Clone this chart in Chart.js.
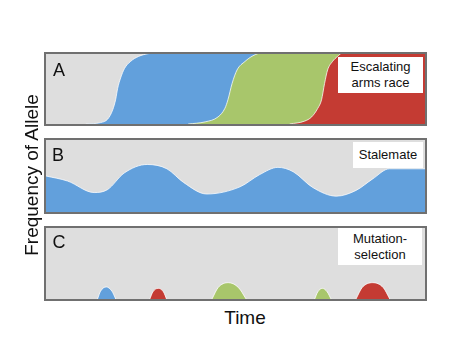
<!DOCTYPE html>
<html>
<head>
<meta charset="utf-8">
<script src="https://cdn.jsdelivr.net/npm/chart.js@4.4.1/dist/chart.umd.min.js"></script>
<style>
  html, body { margin: 0; padding: 0; background: #fff; }
  body { width: 456px; height: 356px; position: relative; overflow: hidden;
         font-family: "Liberation Sans", Arial, Helvetica, sans-serif; color: #111; }
  .panel { position: absolute; left: 44px; width: 383px; box-sizing: border-box;
           border: 2px solid #707070; background: #dedede; }
  .panel canvas { display: block; }
  .txt { position: absolute; white-space: nowrap; }
  .letter { font-size: 18px; line-height: 18px; transform: translate(-50%, -50%); }
  .box { position: absolute; background: #fff; font-size: 13px; line-height: 16px;
         text-align: center; display: flex; flex-direction: column; justify-content: center; }
</style>
</head>
<body>
<div class="panel" id="pA" style="top:52px;height:74px;"><canvas id="cA"></canvas></div>
<div class="panel" id="pB" style="top:138px;height:76px;"><canvas id="cB"></canvas></div>
<div class="panel" id="pC" style="top:226px;height:75px;"><canvas id="cC"></canvas></div>

<div class="txt letter" style="left:59px;top:70px;">A</div>
<div class="txt letter" style="left:58px;top:155px;">B</div>
<div class="txt letter" style="left:59px;top:242px;">C</div>

<div class="box" style="left:338px;top:57px;width:85px;height:36px;">Escalating<br>arms race</div>
<div class="box" style="left:353px;top:142px;width:70px;height:26px;">Stalemate</div>
<div class="box" style="left:338px;top:228px;width:84px;height:37px;">Mutation-<br>selection</div>

<div class="txt" style="left:245px;top:318px;font-size:19px;transform:translate(-50%,-50%);">Time</div>
<div class="txt" style="left:32px;top:175px;font-size:19px;transform:translate(-50%,-50%) rotate(-90deg);">Frequency of Allele</div>

<script>
// ---- Data (x = time in % of panel width, y = allele frequency 0..1) ----
// Panel A: escalating arms race
const blueAX  = [10.5, 14.4, 16.3, 17.6, 18.4, 18.9, 19.7, 20.7, 22.3, 24.4, 27.0, 28.9, 100];
const blueAY  = [0, 0.02, 0.07, 0.20, 0.35, 0.50, 0.65, 0.78, 0.88, 0.95, 0.99, 1, 1];
const greenAX = [37.5, 42.0, 45.4, 47.2, 48.0, 49.1, 50.4, 52.5, 54.6, 57.0, 100];
const greenAY = [0, 0.03, 0.10, 0.22, 0.34, 0.57, 0.76, 0.88, 0.96, 1, 1];
const redAX   = [64.3, 68.2, 70.1, 71.7, 72.7, 73.5, 74.3, 75.6, 76.9, 78.2, 100];
const redAY   = [0, 0.04, 0.10, 0.22, 0.34, 0.57, 0.76, 0.88, 0.95, 1, 1];

// Panel B: stalemate
const blueBX = [0, 5.7, 12.7, 16.2, 20.6, 26.7, 31.9, 36.3, 42.4, 51.2, 56.4, 61.2, 65.2, 70.4, 76.6, 81.8, 86.2, 90.6, 100];
const blueBY = [0.50, 0.43, 0.27, 0.31, 0.54, 0.66, 0.60, 0.41, 0.25, 0.35, 0.52, 0.62, 0.56, 0.34, 0.22, 0.30, 0.46, 0.60, 0.60];

// Panel C: mutation-selection
const blueC1X  = [13.6, 14.4, 15.9, 17.4, 18.4];  const blueC1Y  = [0, 0.11, 0.17, 0.11, 0];
const redC1X   = [27.4, 28.2, 29.6, 31.0, 31.8];  const redC1Y   = [0, 0.10, 0.15, 0.10, 0];
const greenC1X = [43.8, 45.4, 48.1, 50.8, 52.8];  const greenC1Y = [0, 0.16, 0.23, 0.16, 0];
const greenC2X = [70.9, 71.7, 72.9, 74.2, 75.2];  const greenC2Y = [0, 0.10, 0.15, 0.10, 0];
const redC2X   = [81.8, 83.4, 86.2, 89.0, 90.7];  const redC2Y   = [0, 0.16, 0.23, 0.16, 0];

const BLUE = '#62a0dc', GREEN = '#a8c66b', RED = '#c43b33';
const EDGE = 'rgba(255,255,255,0.75)';

function pts(xs, ys) { return xs.map((x, i) => ({ x: x, y: ys[i] })); }

// order: higher value is drawn underneath
function ds(xs, ys, color, order) {
  return {
    data: pts(xs, ys),
    fill: 'origin',
    backgroundColor: color,
    borderColor: EDGE,
    borderWidth: 1,
    pointRadius: 0,
    clip: 0,
    order: order,
    cubicInterpolationMode: 'monotone'
  };
}

function makeChart(id, w, h, yMax, datasets) {
  const c = document.getElementById(id);
  c.width = w; c.height = h;
  c.style.width = w + 'px'; c.style.height = h + 'px';
  return new Chart(c, {
    type: 'line',
    data: { datasets: datasets },
    options: {
      responsive: false,
      animation: false,
      devicePixelRatio: 1,
      layout: { padding: 0 },
      plugins: { legend: { display: false }, tooltip: { enabled: false } },
      scales: {
        x: { type: 'linear', min: 0, max: 100, display: false },
        y: { min: 0, max: yMax, display: false }
      }
    }
  });
}

makeChart('cA', 379, 70, 0.985, [
  ds(blueAX, blueAY, BLUE, 3),
  ds(greenAX, greenAY, GREEN, 2),
  ds(redAX, redAY, RED, 1)
]);
makeChart('cB', 379, 72, 1, [
  ds(blueBX, blueBY, BLUE, 1)
]);
makeChart('cC', 379, 71, 1, [
  ds(blueC1X, blueC1Y, BLUE, 1),
  ds(redC1X, redC1Y, RED, 1),
  ds(greenC1X, greenC1Y, GREEN, 1),
  ds(greenC2X, greenC2Y, GREEN, 1),
  ds(redC2X, redC2Y, RED, 1)
]);
</script>
</body>
</html>
